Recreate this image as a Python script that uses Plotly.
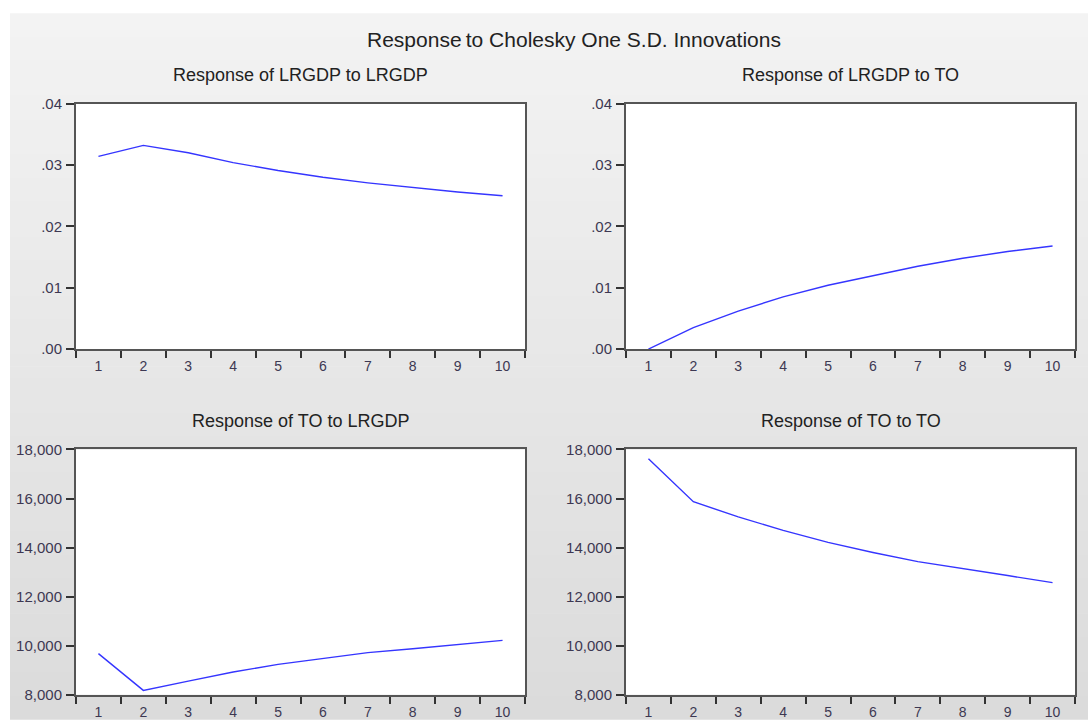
import plotly.graph_objects as go

periods = [1, 2, 3, 4, 5, 6, 7, 8, 9, 10]
lrgdp_to_lrgdp = [0.0314, 0.0332, 0.0320, 0.0304, 0.0291, 0.0280, 0.0271, 0.0263, 0.0256, 0.0250]
lrgdp_to_to = [0.0000, 0.0035, 0.0062, 0.0085, 0.0104, 0.0120, 0.0135, 0.0148, 0.0159, 0.0168]
to_to_lrgdp = [9680, 8180, 8560, 8930, 9240, 9470, 9720, 9880, 10050, 10220]
to_to_to = [17620, 15870, 15250, 14700, 14210, 13800, 13430, 13130, 12860, 12570]

small_ticks = [0.00, 0.01, 0.02, 0.03, 0.04]
small_labels = [".00", ".01", ".02", ".03", ".04"]
big_ticks = [8000, 10000, 12000, 14000, 16000, 18000]
big_labels = ["8,000", "10,000", "12,000", "14,000", "16,000", "18,000"]

main_title = "Response\u2009to Cholesky One S.D. Innovations"
titles = ["Response of LRGDP to LRGDP", "Response of LRGDP to TO",
          "Response of TO to LRGDP", "Response of TO to TO"]

W, H = 1088, 727


def py(v):
    # pixel row -> paper fraction (with small vertical calibration)
    return 1 - ((v - 5.7) / 0.983) / H


xdoms = [[76 / W, 525 / W], [626 / W, 1075 / W]]
ydoms = [[py(348), py(101)], [py(696), py(449)]]

fig = go.Figure()

# gray gradient background
nb = 60
top, bot = (243, 243, 243), (219, 219, 219)
y0p, y1p = 0.0, py(10)
for i in range(nb):
    t = i / (nb - 1)
    c = tuple(round(top[k] + (bot[k] - top[k]) * t) for k in range(3))
    ya = y1p - (y1p - y0p) * i / nb
    yb = y1p - (y1p - y0p) * (i + 1) / nb
    fig.add_shape(type="rect", xref="paper", yref="paper", x0=10 / W, x1=1.0,
                  y0=yb - 0.001, y1=ya, fillcolor="rgb(%d,%d,%d)" % c,
                  line=dict(width=0), layer="below")

# white plotting areas
for r in range(2):
    for c in range(2):
        fig.add_shape(type="rect", xref="paper", yref="paper",
                      x0=xdoms[c][0], x1=xdoms[c][1], y0=ydoms[r][0], y1=ydoms[r][1],
                      fillcolor="white", line=dict(width=0), layer="below")

series = [lrgdp_to_lrgdp, lrgdp_to_to, to_to_lrgdp, to_to_to]
font = "Liberation Sans, Arial, sans-serif"
tick_color = "#3d3852"

for i, vals in enumerate(series):
    r, c = divmod(i, 2)
    n = "" if i == 0 else str(i + 1)
    fig.add_trace(go.Scatter(x=periods, y=vals, mode="lines",
                             line=dict(color="#3535ff", width=1.4),
                             xaxis="x" + n, yaxis="y" + n, showlegend=False))
    small = r == 0
    fig.update_layout(**{
        "xaxis" + n: dict(domain=xdoms[c], anchor="y" + n, range=[0.5, 10.5],
                          tickmode="array", tickvals=periods,
                          ticktext=[str(p) for p in periods],
                          ticks="outside", ticklen=0, ticklabelstandoff=3,
                          minor=dict(tickmode="array",
                                     tickvals=[p - 0.5 for p in periods] + [10.5],
                                     ticks="outside", ticklen=7, tickwidth=1.5,
                                     tickcolor="#333", showgrid=False),
                          showline=True, mirror=True, linecolor="#555", linewidth=2,
                          showgrid=False, zeroline=False,
                          tickfont=dict(family=font, size=14, color=tick_color),
                          fixedrange=True),
        "yaxis" + n: dict(domain=ydoms[r], anchor="x" + n,
                          range=[0, 0.04] if small else [8000, 18000],
                          tickmode="array",
                          tickvals=small_ticks if small else big_ticks,
                          ticktext=small_labels if small else big_labels,
                          ticks="outside", ticklen=8, tickwidth=1.5, tickcolor="#333",
                          ticklabelstandoff=1,
                          showline=True, mirror=True, linecolor="#555", linewidth=2,
                          showgrid=False, zeroline=False,
                          tickfont=dict(family=font, size=15, color=tick_color),
                          fixedrange=True),
    })
    fig.add_annotation(text=titles[i], xref="paper", yref="paper",
                       x=(xdoms[c][0] + xdoms[c][1]) / 2,
                       y=py(72 if r == 0 else 420),
                       showarrow=False, xanchor="center", yanchor="middle",
                       font=dict(family=font, size=18, color="#222"))

fig.add_annotation(text=main_title, xref="paper", yref="paper", x=574 / W, y=py(36),
                   showarrow=False, xanchor="center", yanchor="middle",
                   font=dict(family=font, size=21, color="#222"))

fig.update_layout(width=W, height=H, margin=dict(l=0, r=0, t=0, b=0),
                  paper_bgcolor="white", plot_bgcolor="white")

fig.write_html("out.html")
